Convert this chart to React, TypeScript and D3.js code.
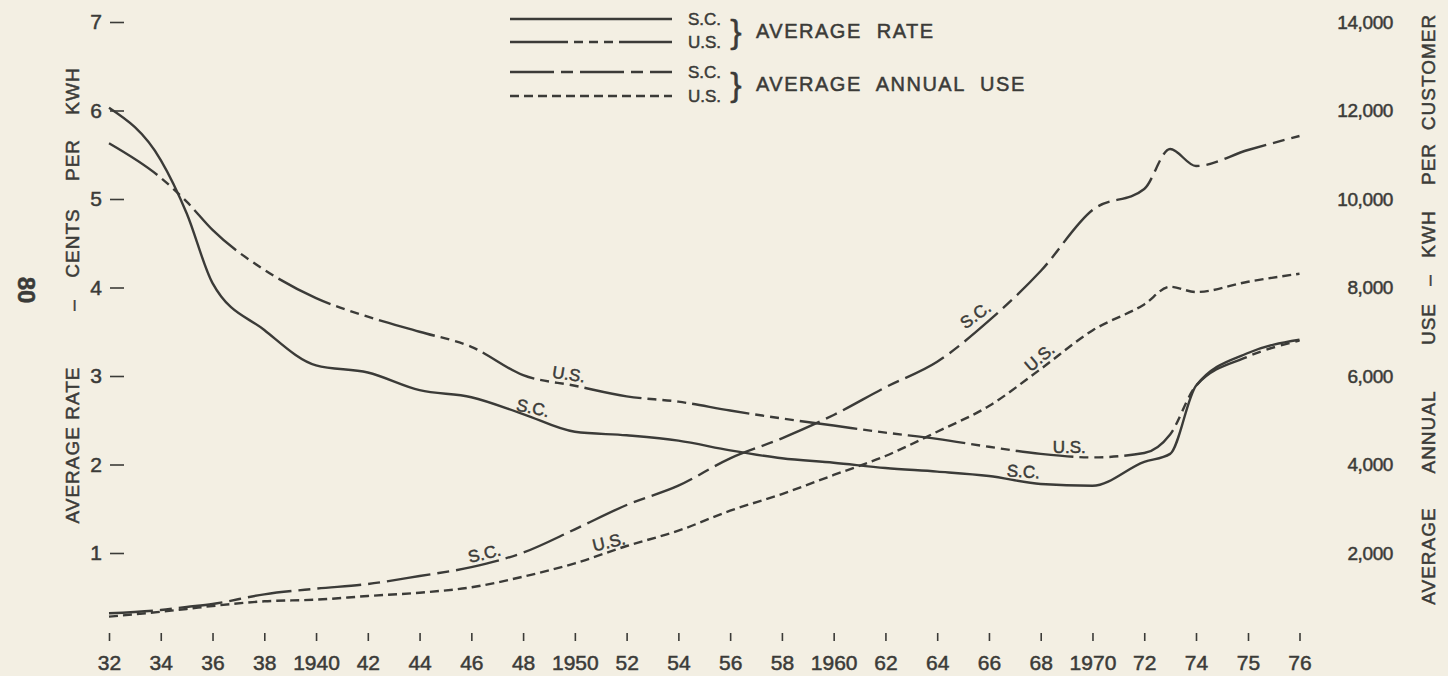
import React, { useEffect, useRef } from 'react';
import * as d3 from 'd3';

// years on the chart (19xx); the axis is 2-yearly up to 74, then 75 and 76
const years = [32, 34, 35, 36, 38, 40, 42, 44, 46, 48, 50, 52, 54, 56, 58, 60, 62, 64, 66, 68, 70, 72, 73, 74, 75, 76];

// average rate, cents per kWh
const scRate = [6.03, 5.44, 4.84, 4.05, 3.52, 3.12, 3.04, 2.84, 2.76, 2.57, 2.37, 2.33, 2.27, 2.16, 2.07, 2.02, 1.96, 1.92, 1.87, 1.78, 1.76, 2.03, 2.12, 2.89, 3.26, 3.41];
const usRate = [5.63, 5.24, 4.97, 4.65, 4.2, 3.88, 3.67, 3.5, 3.33, 3.01, 2.89, 2.77, 2.71, 2.61, 2.52, 2.44, 2.36, 2.29, 2.2, 2.12, 2.08, 2.13, 2.34, 2.89, 3.22, 3.4];

// average annual use, kWh per customer
const scUse = [638, 712, 780, 848, 1066, 1194, 1299, 1480, 1680, 2007, 2535, 3085, 3521, 4140, 4592, 5119, 5745, 6323, 7250, 8372, 9751, 10226, 11130, 10746, 11107, 11424];
const usUse = [561, 673, 735, 802, 908, 945, 1028, 1103, 1225, 1465, 1767, 2158, 2504, 2956, 3333, 3763, 4192, 4741, 5322, 6158, 7030, 7618, 8018, 7898, 8130, 8312];

const xTicks = [32, 34, 36, 38, 40, 42, 44, 46, 48, 50, 52, 54, 56, 58, 60, 62, 64, 66, 68, 70, 72, 74, 75, 76];
const xTickLabels = ['32', '34', '36', '38', '1940', '42', '44', '46', '48', '1950', '52', '54', '56', '58', '1960', '62', '64', '66', '68', '1970', '72', '74', '75', '76'];
const rateTicks = [1, 2, 3, 4, 5, 6, 7];
const useTicks = [2000, 4000, 6000, 8000, 10000, 12000, 14000];

// little hand-lettered tags sitting on the curves
const rateTags = [
  { text: 'U.S.', year: 49.7, value: 2.91, angle: 9 },
  { text: 'S.C.', year: 48.3, value: 2.53, angle: 12 },
  { text: 'U.S.', year: 69.1, value: 2.08, angle: 0 },
  { text: 'S.C.', year: 67.3, value: 1.81, angle: 4 },
];
const useTags = [
  { text: 'S.C.', year: 46.6, value: 1774, angle: -14 },
  { text: 'U.S.', year: 51.4, value: 2032, angle: -13 },
  { text: 'S.C.', year: 65.7, value: 7200, angle: -36 },
  { text: 'U.S.', year: 68.2, value: 6250, angle: -40 },
];

const INK = '#3b3b38';
const PAPER = '#f3efe3';
const FONT = "'Liberation Sans', Arial, sans-serif";

// dash patterns, as drawn on the original
const DASH_US_RATE = '58 6 9 6 9 6 9 6';
const DASH_SC_USE = '44 7 12 7';
const DASH_US_USE = '9 5';

const App = () => {
  const svgRef = useRef<SVGSVGElement>(null);

  useEffect(() => {
    const svg = d3.select(svgRef.current);
    svg.selectAll('*').remove();

    svg.append('rect').attr('width', 1448).attr('height', 676).attr('fill', PAPER);

    const x = d3.scaleLinear().domain([32, 74, 75, 76]).range([109, 1196, 1248, 1299.5]);
    const yRate = d3.scaleLinear().domain([0, 7]).range([641.5, 22]);
    const yUse = d3.scaleLinear().domain([0, 14000]).range([641.5, 22]);

    // x axis
    const xAxis = svg.append('g')
      .attr('transform', 'translate(0, 633)')
      .call(d3.axisBottom(x).tickValues(xTicks).tickFormat((d, i) => xTickLabels[i]).tickSize(8).tickPadding(14));
    xAxis.select('.domain').remove();
    xAxis.selectAll('line').attr('stroke', INK).attr('stroke-width', 1.6);
    xAxis.selectAll('text').attr('fill', INK).style('font-family', FONT).style('font-size', '21px');

    // left axis
    const yAxis = svg.append('g')
      .attr('transform', 'translate(124, 0)')
      .call(d3.axisLeft(yRate).tickValues(rateTicks).tickFormat(d3.format('d')).tickSize(14).tickPadding(8));
    yAxis.select('.domain').remove();
    yAxis.selectAll('line').attr('stroke', INK).attr('stroke-width', 1.6);
    yAxis.selectAll('text').attr('fill', INK).style('font-family', FONT).style('font-size', '21px');

    // right axis, figures only
    const rAxis = svg.append('g')
      .attr('transform', 'translate(1340, 0)')
      .call(d3.axisRight(yUse).tickValues(useTicks).tickFormat(d3.format(',')).tickSize(0).tickPadding(0));
    rAxis.select('.domain').remove();
    rAxis.selectAll('text')
      .attr('fill', INK)
      .attr('text-anchor', 'end')
      .attr('x', 53)
      .style('font-family', FONT)
      .style('font-size', '19px')
      .style('letter-spacing', '-0.4px');

    // axis titles, word by word as they were spaced out
    const leftWords = [
      { t: 'KWH', y: 91 }, { t: 'PER', y: 160 }, { t: 'CENTS', y: 243 },
      { t: '–', y: 305 }, { t: 'AVERAGE RATE', y: 445 },
    ];
    leftWords.forEach(w => {
      svg.append('text')
        .attr('transform', `translate(72, ${w.y}) rotate(-90)`)
        .attr('text-anchor', 'middle')
        .attr('dominant-baseline', 'central')
        .attr('fill', INK)
        .style('font-family', FONT)
        .style('font-size', '19px')
        .style('letter-spacing', '1px')
        .text(w.t);
    });
    const rightWords = [
      { t: 'CUSTOMER', y: 72 }, { t: 'PER', y: 164 }, { t: 'KWH', y: 234 },
      { t: '–', y: 280 }, { t: 'USE', y: 324 }, { t: 'ANNUAL', y: 432 }, { t: 'AVERAGE', y: 556 },
    ];
    rightWords.forEach(w => {
      svg.append('text')
        .attr('transform', `translate(1428, ${w.y}) rotate(-90)`)
        .attr('text-anchor', 'middle')
        .attr('dominant-baseline', 'central')
        .attr('fill', INK)
        .style('font-family', FONT)
        .style('font-size', '19px')
        .style('letter-spacing', '1px')
        .text(w.t);
    });

    // page number, turned on its side
    svg.append('text')
      .attr('transform', 'translate(26, 290) rotate(90)')
      .attr('text-anchor', 'middle')
      .attr('dominant-baseline', 'central')
      .attr('fill', INK)
      .style('font-family', FONT)
      .style('font-size', '24px')
      .style('font-weight', 'bold')
      .text('80');

    // curves
    const rateLine = d3.line<number>().x((d, i) => x(years[i])).y(d => yRate(d)).curve(d3.curveMonotoneX);
    const useLine = d3.line<number>().x((d, i) => x(years[i])).y(d => yUse(d)).curve(d3.curveMonotoneX);

    const series = [
      { data: scUse, gen: useLine, dash: DASH_SC_USE },
      { data: usUse, gen: useLine, dash: DASH_US_USE },
      { data: usRate, gen: rateLine, dash: DASH_US_RATE },
      { data: scRate, gen: rateLine, dash: null },
    ];
    series.forEach(s => {
      svg.append('path')
        .attr('d', s.gen(s.data))
        .attr('fill', 'none')
        .attr('stroke', INK)
        .attr('stroke-width', 2.4)
        .attr('stroke-linejoin', 'round')
        .attr('stroke-dasharray', s.dash);
    });

    // tags on the curves
    const addTag = (px: number, py: number, text: string, angle: number) => {
      svg.append('text')
        .attr('transform', `translate(${px}, ${py}) rotate(${angle})`)
        .attr('text-anchor', 'middle')
        .attr('y', -4)
        .attr('fill', INK)
        .style('font-family', FONT)
        .style('font-size', '17px')
        .text(text);
    };
    rateTags.forEach(t => addTag(x(t.year), yRate(t.value), t.text, t.angle));
    useTags.forEach(t => addTag(x(t.year), yUse(t.value), t.text, t.angle));

    // legend
    const legendRows = [
      { y: 19, dash: null, label: 'S.C.' },
      { y: 42, dash: DASH_US_RATE, label: 'U.S.' },
      { y: 72, dash: DASH_SC_USE, label: 'S.C.' },
      { y: 96, dash: DASH_US_USE, label: 'U.S.' },
    ];
    legendRows.forEach(r => {
      svg.append('line')
        .attr('x1', 510).attr('x2', 672)
        .attr('y1', r.y).attr('y2', r.y)
        .attr('stroke', INK)
        .attr('stroke-width', 2.4)
        .attr('stroke-dasharray', r.dash);
      svg.append('text')
        .attr('x', 688).attr('y', r.y)
        .attr('dominant-baseline', 'central')
        .attr('fill', INK)
        .style('font-family', FONT)
        .style('font-size', '17px')
        .text(r.label);
    });
    const groups = [
      { y: 31, label: 'AVERAGE RATE' },
      { y: 84, label: 'AVERAGE ANNUAL USE' },
    ];
    groups.forEach(g => {
      svg.append('text')
        .attr('x', 736).attr('y', g.y)
        .attr('text-anchor', 'middle')
        .attr('dominant-baseline', 'central')
        .attr('fill', INK)
        .style('font-family', FONT)
        .style('font-size', '34px')
        .style('font-weight', '300')
        .text('}');
      svg.append('text')
        .attr('x', 756).attr('y', g.y)
        .attr('dominant-baseline', 'central')
        .attr('fill', INK)
        .style('font-family', FONT)
        .style('font-size', '20px')
        .style('letter-spacing', '1.5px')
        .style('word-spacing', '8px')
        .text(g.label);
    });

    // the lettering on the original is heavier than a plain regular face
    svg.selectAll('text').attr('stroke', INK).attr('stroke-width', 0.5);
  }, []);

  return (
    <svg ref={svgRef} width={1448} height={676} style={{ position: 'absolute', left: 0, top: 0 }}></svg>
  );
};

export default App;
